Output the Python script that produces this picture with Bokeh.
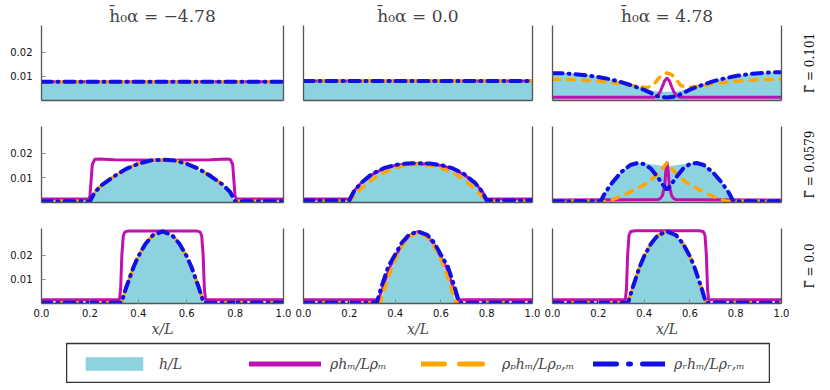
import math
from bokeh.plotting import figure
from bokeh.layouts import column, row
from bokeh.models import (LinearAxis, FixedTicker, Range1d, Label, Legend,
                          LegendItem, Spacer)
from bokeh.embed import file_html
from bokeh.resources import INLINE

# ---------------- text ----------------
COL_TITLES = ["h̄₀α = −4.78", "h̄₀α = 0.0", "h̄₀α = 4.78"]
ROW_LABELS = ["Γ̃ = 0.101", "Γ̃ = 0.0579", "Γ̃ = 0.0"]
X_TICKS = [0.0, 0.2, 0.4, 0.6, 0.8, 1.0]
X_TICK_LABELS = ["0.0", "0.2", "0.4", "0.6", "0.8", "1.0"]
Y_TICKS = [0.01, 0.02]
Y_TICK_LABELS = ["0.01", "0.02"]
X_LABEL = "x/L"
LEGEND_LABELS = ["h/L", "ρhₘ/Lρₘ", "ρₚhₘ/Lρₚ,ₘ", "ρᵣhₘ/Lρᵣ,ₘ"]

# ---------------- data: row 1 (Gamma = 0.101) ----------------
h_11_x = [0.0, 1.0]
h_11_y = [0.0075, 0.0075]
m_11_x = [0.0, 1.0]
m_11_y = [0.0077, 0.0077]
p_11_x = [0.0, 1.0]
p_11_y = [0.0077, 0.0077]
r_11_x = [0.0, 1.0]
r_11_y = [0.0077, 0.0077]

h_12_x = [0.0, 1.0]
h_12_y = [0.0079, 0.0079]
m_12_x = [0.0, 1.0]
m_12_y = [0.0081, 0.0081]
p_12_x = [0.0, 1.0]
p_12_y = [0.0081, 0.0081]
r_12_x = [0.0, 1.0]
r_12_y = [0.0081, 0.0081]

h_13_x = [0.0, 0.05, 0.1, 0.15, 0.2, 0.25, 0.3, 0.35, 0.4, 0.45, 0.5,
          0.55, 0.6, 0.65, 0.7, 0.75, 0.8, 0.85, 0.9, 0.95, 1.0]
h_13_y = [0.0115, 0.0114, 0.0110, 0.0105, 0.0098, 0.0089, 0.0078, 0.0064, 0.0050, 0.0038, 0.0036,
          0.0038, 0.0051, 0.0066, 0.0080, 0.0092, 0.0101, 0.0108, 0.0113, 0.0116, 0.0117]
m_13_x = [0.0, 0.44, 0.45, 0.46, 0.47, 0.48, 0.49, 0.5, 0.51, 0.52, 0.53, 0.54, 0.55, 0.56, 1.0]
m_13_y = [0.0013, 0.0013, 0.0015, 0.0022, 0.0035, 0.0058, 0.0082, 0.0093, 0.0082, 0.0058,
          0.0035, 0.0022, 0.0015, 0.0013, 0.0013]
p_13_x = [0.0, 0.1, 0.2, 0.3, 0.36, 0.41, 0.44, 0.46, 0.48, 0.5, 0.52, 0.54, 0.56, 0.59,
          0.64, 0.7, 0.8, 0.9, 1.0]
p_13_y = [0.0088, 0.0086, 0.0080, 0.0069, 0.0060, 0.0053, 0.0062, 0.0088, 0.0107, 0.0114,
          0.0107, 0.0088, 0.0062, 0.0053, 0.0060, 0.0069, 0.0080, 0.0086, 0.0088]
r_13_x = [0.0, 0.05, 0.1, 0.15, 0.2, 0.25, 0.3, 0.35, 0.4, 0.43, 0.46, 0.5, 0.54, 0.57,
          0.6, 0.65, 0.7, 0.75, 0.8, 0.85, 0.9, 0.95, 1.0]
r_13_y = [0.0113, 0.0112, 0.0109, 0.0104, 0.0097, 0.0088, 0.0076, 0.0061, 0.0044, 0.0031,
          0.0017, 0.0012, 0.0017, 0.0031, 0.0045, 0.0063, 0.0079, 0.0091, 0.0101, 0.0108,
          0.0113, 0.0116, 0.0117]

# ---------------- data: row 2 (Gamma = 0.0579) ----------------
h_21_x = [0.0, 0.2, 0.22, 0.25, 0.3, 0.35, 0.4, 0.45, 0.5, 0.55, 0.6, 0.65, 0.7, 0.75, 0.78, 0.8, 1.0]
h_21_y = [0.0003, 0.0003, 0.0036, 0.0066, 0.0101, 0.0130, 0.0151, 0.0163, 0.0167, 0.0163,
          0.0151, 0.0130, 0.0101, 0.0066, 0.0036, 0.0003, 0.0003]
m_21_x = [0.0, 0.195, 0.2, 0.205, 0.21, 0.22, 0.24, 0.3, 0.5, 0.7, 0.76, 0.78, 0.79, 0.795,
          0.8, 0.805, 1.0]
m_21_y = [0.0014, 0.0014, 0.0025, 0.0090, 0.0155, 0.0176, 0.0177, 0.0174, 0.0172, 0.0174,
          0.0177, 0.0176, 0.0155, 0.0090, 0.0025, 0.0014, 0.0014]
p_21_x = [0.0, 0.2, 0.22, 0.25, 0.3, 0.35, 0.4, 0.45, 0.5, 0.55, 0.6, 0.65, 0.7, 0.75, 0.78, 0.8, 1.0]
p_21_y = [0.0005, 0.0005, 0.0042, 0.0072, 0.0107, 0.0137, 0.0158, 0.0171, 0.0175, 0.0171,
          0.0158, 0.0137, 0.0107, 0.0072, 0.0042, 0.0005, 0.0005]
r_21_x = [0.0, 0.2, 0.22, 0.25, 0.3, 0.35, 0.4, 0.45, 0.5, 0.55, 0.6, 0.65, 0.7, 0.75, 0.78, 0.8, 1.0]
r_21_y = [0.0005, 0.0005, 0.0042, 0.0072, 0.0107, 0.0137, 0.0158, 0.0171, 0.0175, 0.0171,
          0.0158, 0.0137, 0.0107, 0.0072, 0.0042, 0.0005, 0.0005]

h_22_x = [0.0, 0.2, 0.22, 0.25, 0.3, 0.35, 0.4, 0.45, 0.5, 0.55, 0.6, 0.65, 0.7, 0.75, 0.78, 0.8, 1.0]
h_22_y = [0.0003, 0.0003, 0.0035, 0.0068, 0.0106, 0.0130, 0.0145, 0.0153, 0.0155, 0.0153,
          0.0145, 0.0130, 0.0106, 0.0068, 0.0035, 0.0003, 0.0003]
m_22_x = [0.0, 0.2, 0.22, 0.25, 0.3, 0.35, 0.4, 0.45, 0.5, 0.55, 0.6, 0.65, 0.7, 0.75, 0.78, 0.8, 1.0]
m_22_y = [0.0014, 0.0014, 0.0046, 0.0078, 0.0114, 0.0138, 0.0151, 0.0157, 0.0158, 0.0157,
          0.0151, 0.0138, 0.0114, 0.0078, 0.0046, 0.0014, 0.0014]
p_22_x = [0.0, 0.2, 0.22, 0.25, 0.3, 0.35, 0.4, 0.45, 0.5, 0.55, 0.6, 0.65, 0.7, 0.75, 0.78, 0.8, 1.0]
p_22_y = [0.0005, 0.0005, 0.0025, 0.0055, 0.0094, 0.0122, 0.0141, 0.0152, 0.0156, 0.0152,
          0.0141, 0.0122, 0.0094, 0.0055, 0.0025, 0.0005, 0.0005]
r_22_x = [0.0, 0.2, 0.22, 0.25, 0.3, 0.35, 0.4, 0.45, 0.5, 0.55, 0.6, 0.65, 0.7, 0.75, 0.78, 0.8, 1.0]
r_22_y = [0.0008, 0.0008, 0.0045, 0.0079, 0.0117, 0.0140, 0.0153, 0.0159, 0.0160, 0.0159,
          0.0153, 0.0140, 0.0117, 0.0079, 0.0045, 0.0008, 0.0008]

h_23_x = [0.0, 0.21, 0.23, 0.26, 0.3, 0.34, 0.37, 0.4, 0.44, 0.48, 0.5, 0.52, 0.56, 0.6,
          0.63, 0.66, 0.7, 0.74, 0.77, 0.79, 1.0]
h_23_y = [0.0002, 0.0002, 0.0040, 0.0080, 0.0124, 0.0152, 0.0160, 0.0160, 0.0155, 0.0150,
          0.0148, 0.0150, 0.0155, 0.0160, 0.0160, 0.0152, 0.0124, 0.0080, 0.0040, 0.0002, 0.0002]
m_23_x = [0.0, 0.46, 0.47, 0.48, 0.49, 0.495, 0.5, 0.505, 0.51, 0.52, 0.53, 0.54, 1.0]
m_23_y = [0.0010, 0.0012, 0.0016, 0.0028, 0.0070, 0.0130, 0.0165, 0.0130, 0.0070, 0.0028,
          0.0016, 0.0012, 0.0010]
p_23_x = [0.0, 0.24, 0.28, 0.32, 0.36, 0.4, 0.44, 0.47, 0.49, 0.5, 0.51, 0.53, 0.56, 0.6,
          0.64, 0.68, 0.72, 0.76, 1.0]
p_23_y = [0.0005, 0.0005, 0.0018, 0.0034, 0.0053, 0.0072, 0.0100, 0.0128, 0.0150, 0.0162,
          0.0150, 0.0128, 0.0100, 0.0072, 0.0053, 0.0034, 0.0018, 0.0005, 0.0005]
r_23_x = [0.0, 0.21, 0.23, 0.26, 0.3, 0.34, 0.37, 0.4, 0.43, 0.46, 0.48, 0.5, 0.52, 0.54,
          0.57, 0.6, 0.63, 0.66, 0.7, 0.74, 0.77, 0.79, 1.0]
r_23_y = [0.0005, 0.0005, 0.0040, 0.0080, 0.0124, 0.0153, 0.0161, 0.0157, 0.0138, 0.0103,
          0.0075, 0.0052, 0.0075, 0.0103, 0.0138, 0.0157, 0.0161, 0.0153, 0.0124, 0.0080,
          0.0040, 0.0005, 0.0005]

# ---------------- data: row 3 (Gamma = 0.0) ----------------
h_31_x = [0.0, 0.33, 0.35, 0.38, 0.4, 0.43, 0.46, 0.5, 0.54, 0.57, 0.6, 0.62, 0.65, 0.67, 1.0]
h_31_y = [0.0002, 0.0002, 0.0062, 0.0146, 0.0190, 0.0243, 0.0278, 0.0294, 0.0278, 0.0243,
          0.0190, 0.0146, 0.0062, 0.0002, 0.0002]
m_31_x = [0.0, 0.322, 0.327, 0.332, 0.338, 0.345, 0.36, 0.5, 0.64, 0.655, 0.662, 0.668,
          0.673, 0.678, 1.0]
m_31_y = [0.0015, 0.0015, 0.0060, 0.0200, 0.0280, 0.0296, 0.0300, 0.0300, 0.0300, 0.0296,
          0.0280, 0.0200, 0.0060, 0.0015, 0.0015]
p_31_x = [0.0, 0.33, 0.35, 0.38, 0.4, 0.43, 0.46, 0.5, 0.54, 0.57, 0.6, 0.62, 0.65, 0.67, 1.0]
p_31_y = [0.0003, 0.0003, 0.0066, 0.0150, 0.0195, 0.0247, 0.0282, 0.0298, 0.0282, 0.0247,
          0.0195, 0.0150, 0.0066, 0.0003, 0.0003]
r_31_x = [0.0, 0.33, 0.35, 0.38, 0.4, 0.43, 0.46, 0.5, 0.54, 0.57, 0.6, 0.62, 0.65, 0.67, 1.0]
r_31_y = [0.0003, 0.0003, 0.0066, 0.0150, 0.0195, 0.0247, 0.0282, 0.0298, 0.0282, 0.0247,
          0.0195, 0.0150, 0.0066, 0.0003, 0.0003]

h_32_x = [0.0, 0.335, 0.35, 0.38, 0.4, 0.43, 0.46, 0.5, 0.54, 0.57, 0.6, 0.62, 0.65, 0.665, 1.0]
h_32_y = [0.0002, 0.0002, 0.0050, 0.0135, 0.0182, 0.0238, 0.0275, 0.0294, 0.0275, 0.0238,
          0.0182, 0.0135, 0.0050, 0.0002, 0.0002]
m_32_x = [0.0, 0.327, 0.345, 0.375, 0.4, 0.43, 0.46, 0.5, 0.54, 0.57, 0.6, 0.625, 0.655, 0.673, 1.0]
m_32_y = [0.0015, 0.0015, 0.0062, 0.0146, 0.0192, 0.0245, 0.0280, 0.0297, 0.0280, 0.0245,
          0.0192, 0.0146, 0.0062, 0.0015, 0.0015]
p_32_x = [0.0, 0.335, 0.35, 0.38, 0.4, 0.43, 0.46, 0.5, 0.54, 0.57, 0.6, 0.62, 0.65, 0.665, 1.0]
p_32_y = [0.0003, 0.0003, 0.0050, 0.0135, 0.0182, 0.0238, 0.0275, 0.0294, 0.0275, 0.0238,
          0.0182, 0.0135, 0.0050, 0.0003, 0.0003]
r_32_x = [0.0, 0.32, 0.34, 0.37, 0.4, 0.43, 0.46, 0.5, 0.54, 0.57, 0.6, 0.63, 0.66, 0.68, 1.0]
r_32_y = [0.0003, 0.0003, 0.0068, 0.0152, 0.0202, 0.0252, 0.0284, 0.0298, 0.0284, 0.0252,
          0.0202, 0.0152, 0.0068, 0.0003, 0.0003]

h_33_x = [0.0, 0.33, 0.35, 0.38, 0.4, 0.43, 0.46, 0.5, 0.54, 0.57, 0.6, 0.62, 0.65, 0.67, 1.0]
h_33_y = [0.0002, 0.0002, 0.0062, 0.0146, 0.0190, 0.0243, 0.0278, 0.0294, 0.0278, 0.0243,
          0.0190, 0.0146, 0.0062, 0.0002, 0.0002]
m_33_x = [0.0, 0.318, 0.323, 0.328, 0.334, 0.342, 0.36, 0.5, 0.64, 0.658, 0.666, 0.672,
          0.677, 0.682, 1.0]
m_33_y = [0.0015, 0.0015, 0.0060, 0.0200, 0.0282, 0.0298, 0.0301, 0.0301, 0.0301, 0.0298,
          0.0282, 0.0200, 0.0060, 0.0015, 0.0015]
p_33_x = [0.0, 0.33, 0.35, 0.38, 0.4, 0.43, 0.46, 0.5, 0.54, 0.57, 0.6, 0.62, 0.65, 0.67, 1.0]
p_33_y = [0.0003, 0.0003, 0.0066, 0.0150, 0.0195, 0.0247, 0.0282, 0.0298, 0.0282, 0.0247,
          0.0195, 0.0150, 0.0066, 0.0003, 0.0003]
r_33_x = [0.0, 0.33, 0.35, 0.38, 0.4, 0.43, 0.46, 0.5, 0.54, 0.57, 0.6, 0.62, 0.65, 0.67, 1.0]
r_33_y = [0.0003, 0.0003, 0.0066, 0.0150, 0.0195, 0.0247, 0.0282, 0.0298, 0.0282, 0.0247,
          0.0195, 0.0150, 0.0066, 0.0003, 0.0003]

PANELS = [
    [(h_11_x, h_11_y, m_11_x, m_11_y, p_11_x, p_11_y, r_11_x, r_11_y),
     (h_12_x, h_12_y, m_12_x, m_12_y, p_12_x, p_12_y, r_12_x, r_12_y),
     (h_13_x, h_13_y, m_13_x, m_13_y, p_13_x, p_13_y, r_13_x, r_13_y)],
    [(h_21_x, h_21_y, m_21_x, m_21_y, p_21_x, p_21_y, r_21_x, r_21_y),
     (h_22_x, h_22_y, m_22_x, m_22_y, p_22_x, p_22_y, r_22_x, r_22_y),
     (h_23_x, h_23_y, m_23_x, m_23_y, p_23_x, p_23_y, r_23_x, r_23_y)],
    [(h_31_x, h_31_y, m_31_x, m_31_y, p_31_x, p_31_y, r_31_x, r_31_y),
     (h_32_x, h_32_y, m_32_x, m_32_y, p_32_x, p_32_y, r_32_x, r_32_y),
     (h_33_x, h_33_y, m_33_x, m_33_y, p_33_x, p_33_y, r_33_x, r_33_y)],
]

# ---------------- style ----------------
FILL = "#8dd3df"
MAGENTA = "#c010b0"
ORANGE = "#ffa500"
BLUE = "#0f0fe6"
SPINE = "#555555"
SERIF = "DejaVu Serif"
SANS = "DejaVu Sans"

COL_W = [293, 249, 247]
COL_BL = [41, 10, 10]
COL_BR = [10, 10, 8]
ROW_H = [113, 102, 126]
ROW_BT = [25, 13, 13]
ROW_BB = [13, 13, 38]
LABEL_W = 38


def make_axis(ticks, labels=None, show_labels=False):
    ax = LinearAxis(ticker=FixedTicker(ticks=ticks, minor_ticks=[]))
    ax.axis_line_color = SPINE
    ax.axis_line_width = 1.3
    ax.major_tick_in = 4
    ax.major_tick_out = 0
    ax.major_tick_line_color = "#888888"
    ax.minor_tick_line_color = None
    ax.major_label_text_font = SANS
    ax.major_label_text_font_size = "10px"
    ax.major_label_text_color = "#111111"
    if labels is not None:
        ax.major_label_overrides = {t: l for t, l in zip(ticks, labels)}
    if not show_labels:
        ax.major_label_text_font_size = "0px"
    return ax


rows = []
for ri in range(3):
    figs = []
    for ci in range(3):
        hx, hy, mx, my, px, py, rx, ry = PANELS[ri][ci]
        p = figure(width=COL_W[ci], height=ROW_H[ri],
                   x_range=Range1d(0, 1), y_range=Range1d(0, 0.031),
                   toolbar_location=None, output_backend="svg",
                   x_axis_location=None, y_axis_location=None,
                   min_border_left=COL_BL[ci], min_border_right=COL_BR[ci],
                   min_border_top=ROW_BT[ri], min_border_bottom=ROW_BB[ri])
        p.outline_line_color = None
        p.grid.visible = False

        p.varea(x=hx, y1=[0.0] * len(hx), y2=hy, fill_color=FILL, fill_alpha=1.0)
        p.line(mx, my, line_color=MAGENTA, line_width=3)
        p.line(px, py, line_color=ORANGE, line_width=3.5, line_dash="7 8",
               line_cap="round")
        p.line(rx, ry, line_color=BLUE, line_width=4, line_dash="10 6 1 6",
               line_cap="round")

        if ci == 0:
            lax = make_axis(Y_TICKS, Y_TICK_LABELS, True)
            lax.major_label_standoff = 9
        else:
            lax = make_axis([])
        p.add_layout(lax, "left")
        p.add_layout(make_axis([]), "right")
        if ri == 2:
            bax = make_axis(X_TICKS, X_TICK_LABELS, True)
            bax.major_label_standoff = 5
            bax.axis_label = X_LABEL
            bax.axis_label_text_font = SERIF
            bax.axis_label_text_font_style = "italic"
            bax.axis_label_text_font_size = "14px"
            bax.axis_label_standoff = 1
        else:
            bax = make_axis([])
        p.add_layout(bax, "below")

        if ri == 0:
            p.title.text = COL_TITLES[ci]
            p.title.align = "center"
            p.title.text_font = SERIF
            p.title.text_font_size = "17px"
            p.title.text_font_style = "normal"
            p.title.standoff = 0
        figs.append(p)

    # side strip holding the row label
    sf = figure(width=LABEL_W, height=ROW_H[ri], x_range=Range1d(0, 1), y_range=Range1d(0, 1),
                toolbar_location=None, output_backend="svg",
                x_axis_location=None, y_axis_location=None,
                min_border_left=0, min_border_right=0,
                min_border_top=ROW_BT[ri], min_border_bottom=ROW_BB[ri])
    sf.outline_line_color = None
    sf.grid.visible = False
    sf.add_layout(Label(x=0.55, y=0.5, text=ROW_LABELS[ri], angle=math.pi / 2,
                        text_align="center", text_baseline="middle",
                        text_font=SERIF, text_font_size="12px", text_color="#111111"))
    figs.append(sf)
    rows.append(row(*figs))

# ---------------- legend strip ----------------
lf = figure(width=704, height=42, x_range=Range1d(0, 1), y_range=Range1d(0, 1),
            toolbar_location=None, output_backend="svg",
            x_axis_location=None, y_axis_location=None,
            min_border_left=0, min_border_right=0, min_border_top=2, min_border_bottom=0)
lf.grid.visible = False
lf.outline_line_color = "#333333"
lf.outline_line_width = 1.5

# legend proxies live outside the visible range
lr_h = lf.varea(x=[5, 6], y1=[5, 5], y2=[6, 6], fill_color=FILL)
lr_m = lf.line([5, 6], [5, 5], line_color=MAGENTA, line_width=5, line_cap="round")
lr_p = lf.line([5, 6], [5, 5], line_color=ORANGE, line_width=5, line_dash="23 15",
               line_cap="round")
lr_r = lf.line([5, 6], [5, 5], line_color=BLUE, line_width=5, line_dash="23 12 2 12",
               line_cap="round")

LEG_POS = [(12, 11), (183, 11), (355, 11), (527, 11)]
for rend, lab, loc in zip([lr_h, lr_m, lr_p, lr_r], LEGEND_LABELS, LEG_POS):
    leg = Legend(items=[LegendItem(label=lab, renderers=[rend])], location=loc,
                 glyph_width=72, glyph_height=17, label_standoff=9,
                 label_text_font=SERIF, label_text_font_style="italic",
                 label_text_font_size="14px", label_height=17,
                 border_line_alpha=0, background_fill_alpha=0,
                 padding=0, margin=0, spacing=0)
    lf.add_layout(leg, "center")

layout = column(rows[0], rows[1], rows[2], row(Spacer(width=66, height=42), lf))

with open("out.html", "w") as f:
    f.write(file_html(layout, INLINE))
